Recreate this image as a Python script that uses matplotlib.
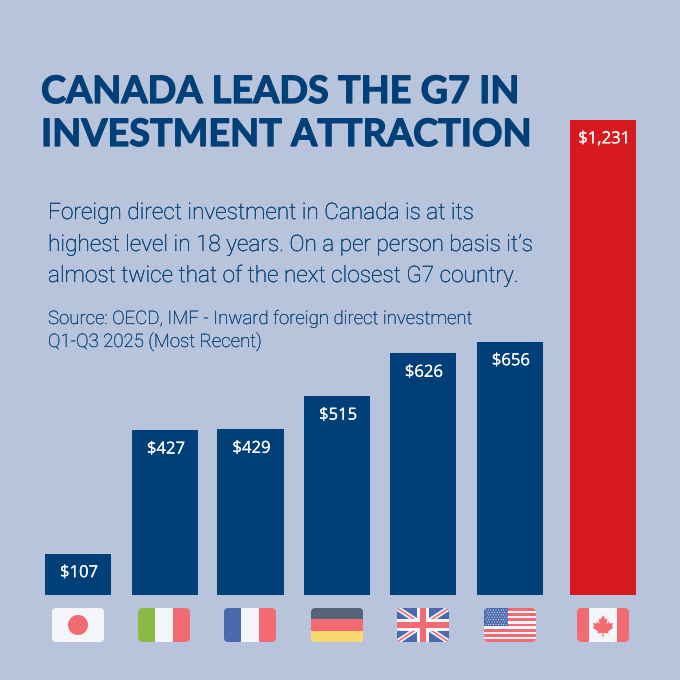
import matplotlib
matplotlib.use('Agg')
import matplotlib.pyplot as plt
import matplotlib.patheffects as pe
from matplotlib.patches import FancyBboxPatch, Rectangle, Circle, Polygon

countries = ['Japan', 'Italy', 'France', 'Germany', 'UK', 'USA', 'Canada']
values = [107, 427, 429, 515, 626, 656, 1231]
labels = ['$107', '$427', '$429', '$515', '$626', '$656', '$1,231']
title_lines = ['CANADA LEADS THE G7 IN', 'INVESTMENT ATTRACTION']
sub_lines = ['Foreign direct investment in Canada is at its',
             'highest level in 18 years. On a per person basis it\u2019s',
             'almost twice that of the next closest G7 country.']
source_lines = ['Source: OECD, IMF - Inward foreign direct investment',
                'Q1-Q3 2025 (Most Recent)']

# layout, all in pixels of the 680 picture
bar_centers = [78, 165, 250.5, 337, 423, 510, 603]
bar_width = 66.5
flag_left = [52, 138, 224, 311, 397, 484, 577]

BG = '#B8C4DC'
NAVY = '#003F77'
RED = '#D71920'
F_RED = '#F26B72'
F_WHITE = '#F4F5F9'
F_BLUE = '#4A69AE'
F_GREEN = '#8ABB45'
F_DARK = '#566476'
F_YELLOW = '#F9D872'

fig = plt.figure(figsize=(6.8, 6.8), dpi=100, facecolor=BG)

# bars: axes spans top of picture down to the baseline at y=595
ax = fig.add_axes([0, 1 - 595 / 680, 1, 595 / 680])
ax.set_xlim(0, 680)
ax.set_ylim(0, 595 / 0.386)
ax.axis('off')
colors = [NAVY] * 6 + [RED]
ax.bar(bar_centers, values, width=bar_width, color=colors)
for x, v, lab in zip(bar_centers, values, labels):
    t = ax.annotate(lab, (x, v), xytext=(0.7, -14), textcoords='offset points',
                    ha='center', va='center', color='white', fontsize=12,
                    family='Open Sans')
    t.set_path_effects([pe.withStroke(linewidth=0.12, foreground='white')])


def ftext(x, y, s, **kw):
    return fig.text(x / 680, 1 - y / 680, s, va='baseline', **kw)


for y, line in zip([103, 146], title_lines):
    t = ftext(41, y, line, color=NAVY, fontsize=27.2, family='Lato', weight='bold')
    t.set_path_effects([pe.withStroke(linewidth=0.9, foreground=NAVY)])
for y, line in zip([219, 251, 282], sub_lines):
    t = ftext(48, y, line, color=NAVY, fontsize=16.3, family='Roboto', weight='light')
    t.set_path_effects([pe.withStroke(linewidth=0.2, foreground=NAVY)])
for y, line in zip([324, 347], source_lines):
    t = ftext(48, y, line, color=NAVY, fontsize=13.4, family='Roboto', weight='light')
    t.set_path_effects([pe.withStroke(linewidth=0.15, foreground=NAVY)])

# flags, drawn in a pixel space overlay
fx = fig.add_axes([0, 0, 1, 1])
fx.set_xlim(0, 680)
fx.set_ylim(680, 0)
fx.axis('off')
fx.patch.set_alpha(0)
FW, FH, FT = 52, 34, 608


def flag(left, draw, base=F_WHITE):
    clip = FancyBboxPatch((left + 4, FT + 4), FW - 8, FH - 8,
                          boxstyle='round,pad=4,rounding_size=4',
                          fc=base, ec='none')
    fx.add_patch(clip)
    for i, p in enumerate(draw(left)):
        if isinstance(p, plt.Line2D):
            fx.add_line(p)
        else:
            fx.add_patch(p)
        p.set_zorder(3 + i)
        p.set_clip_path(clip)


def rect(x, y, w, h, c):
    return Rectangle((x, y), w, h, fc=c, ec='none')


def japan(l):
    return [Circle((l + 26, FT + 17), 10, fc=F_RED, ec='none')]


def vert(c1, c2, c3):
    def d(l):
        w = FW / 3
        return [rect(l, FT, w, FH, c1), rect(l + w, FT, w, FH, c2), rect(l + 2 * w, FT, w, FH, c3)]
    return d


def germany(l):
    h = FH / 3
    return [rect(l, FT, FW, h, F_DARK), rect(l, FT + h, FW, h, F_RED), rect(l, FT + 2 * h, FW, h, F_YELLOW)]


def uk(l):
    r, b = l + FW, FT + FH
    out = [rect(l, FT, FW, FH, F_BLUE)]
    for (a, c) in [((l, FT), (r, b)), ((l, b), (r, FT))]:
        out.append(plt.Line2D([a[0], c[0]], [a[1], c[1]], color=F_WHITE, lw=3.6))
        out.append(plt.Line2D([a[0], c[0]], [a[1], c[1]], color=F_RED, lw=1.2))
    out += [rect(l + 20, FT, 12, FH, F_WHITE), rect(l, FT + 11, FW, 12, F_WHITE),
            rect(l + 23, FT, 6, FH, F_RED), rect(l, FT + 14, FW, 6, F_RED)]
    return out


def usa(l):
    out = [rect(l, FT, FW, FH, F_WHITE)]
    h = FH / 13
    for i in range(0, 13, 2):
        out.append(rect(l, FT + i * h, FW, h, F_RED))
    out.append(rect(l, FT, 24, 7 * h, F_BLUE))
    for row in range(7):
        for col in range(9):
            out.append(Circle((l + 2 + col * 2.5 + (row % 2) * 1.2, FT + 2 + row * 2.4), 0.55, fc=F_WHITE, ec='none'))
    return out


def canada(l):
    cx, cy = l + 26, FT + 17
    leaf = [(0, -10), (2.5, -5.5), (4.5, -6.5), (3.5, -1), (6, -3.5), (6.5, -1.5), (10, -2),
            (9, 1.5), (10.5, 2.5), (5, 6.5), (5.5, 8.5), (0.6, 7.8), (0.6, 12), (-0.6, 12),
            (-0.6, 7.8), (-5.5, 8.5), (-5, 6.5), (-10.5, 2.5), (-9, 1.5), (-10, -2), (-6.5, -1.5),
            (-6, -3.5), (-3.5, -1), (-4.5, -6.5), (-2.5, -5.5)]
    return [rect(l, FT, 12, FH, F_RED), rect(l + 40, FT, 12, FH, F_RED),
            Polygon([(cx + a, cy + b) for a, b in leaf], fc=F_RED, ec='none')]


drawers = [japan, vert(F_GREEN, F_WHITE, F_RED), vert(F_BLUE, F_WHITE, F_RED),
           germany, uk, usa, canada]
for left, d in zip(flag_left, drawers):
    flag(left, d)

fig.savefig('out.png', dpi=100, facecolor=BG)
